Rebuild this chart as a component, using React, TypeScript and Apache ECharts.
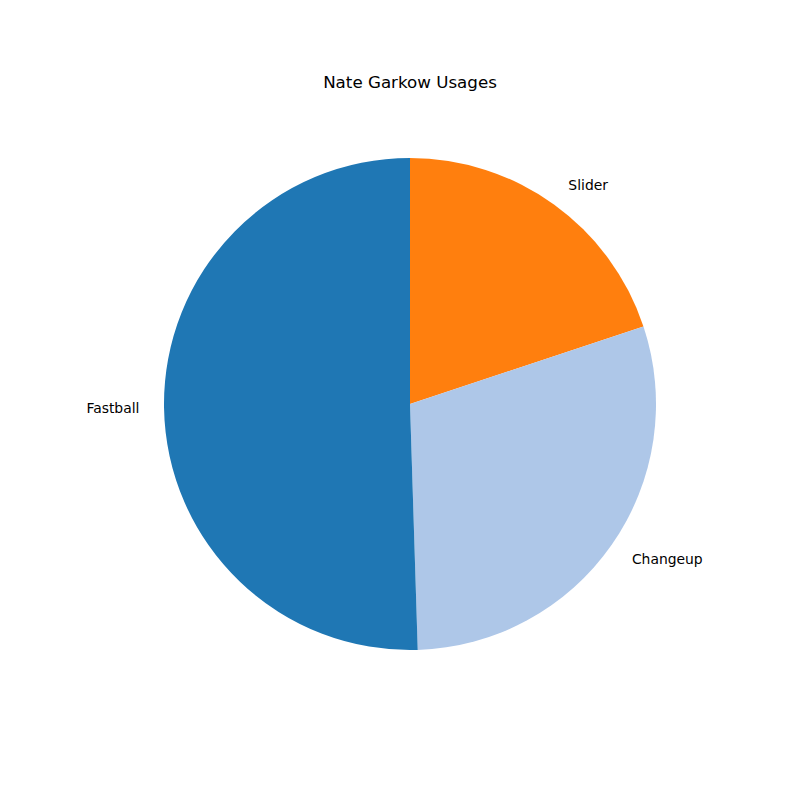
import React, { useEffect, useRef } from "react";
import * as echarts from "echarts";

const categories = ["Slider", "Changeup", "Fastball"];
const values = [19.9, 29.6, 50.5];
const colors = ["#ff7f0e", "#aec7e8", "#1f77b4"];
const titleText = "Nate Garkow Usages";

export default function App() {
  const ref = useRef<HTMLDivElement>(null);
  useEffect(() => {
    const chart = echarts.init(ref.current!, null, { renderer: "svg" });
    const r = 246;
    chart.setOption({
      animation: false,
      backgroundColor: "#ffffff",
      graphic: [
        {
          type: "text",
          x: 410,
          y: 82,
          style: {
            text: titleText,
            fontFamily: "DejaVu Sans",
            fontSize: 16.7,
            fill: "#000",
            textAlign: "center",
            textVerticalAlign: "middle",
          },
        },
      ],
      series: [
        {
          type: "pie",
          center: [410, 404],
          radius: r,
          startAngle: 90,
          clockwise: true,
          avoidLabelOverlap: false,
          emphasis: { disabled: true },
          itemStyle: { borderWidth: 0 },
          label: {
            show: true,
            position: "outside",
            formatter: "{b}",
            fontFamily: "DejaVu Sans",
            fontSize: 13.9,
            color: "#000",
            distanceToLabelLine: 0,
          },
          labelLine: { show: false, length: r * 0.1, length2: 0 },
          data: categories.map((c, i) => ({
            name: c,
            value: values[i],
            itemStyle: { color: colors[i] },
          })),
        },
      ],
    });
    return () => chart.dispose();
  }, []);
  return (
    <div
      ref={ref}
      style={{ position: "fixed", left: 0, top: 0, width: 800, height: 800 }}
    />
  );
}
